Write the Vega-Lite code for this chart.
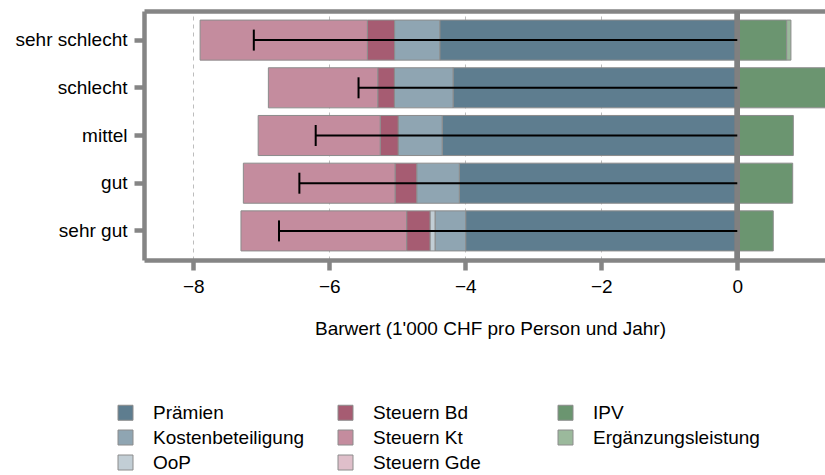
{
  "$schema": "https://vega.github.io/schema/vega-lite/v6.json",
  "width": 681,
  "height": 249,
  "autosize": {"type": "none"},
  "padding": {"left": 144, "top": 11, "right": 0, "bottom": 215},
  "background": "white",
  "config": {
    "view": {"stroke": null},
    "font": "Liberation Sans",
    "text": {"font": "Liberation Sans"}
  },
  "datasets": {
    "bars": [
      {"Zustand": "sehr schlecht", "Komponente": "Prämien", "Wert": -4.375, "Rang": 1},
      {"Zustand": "sehr schlecht", "Komponente": "Kostenbeteiligung", "Wert": -0.665, "Rang": 2},
      {"Zustand": "sehr schlecht", "Komponente": "Steuern Bd", "Wert": -0.40, "Rang": 4},
      {"Zustand": "sehr schlecht", "Komponente": "Steuern Kt", "Wert": -2.46, "Rang": 5},
      {"Zustand": "sehr schlecht", "Komponente": "IPV", "Wert": 0.726, "Rang": 7},
      {"Zustand": "sehr schlecht", "Komponente": "Ergänzungsleistung", "Wert": 0.063, "Rang": 8},
      {"Zustand": "schlecht", "Komponente": "Prämien", "Wert": -4.18, "Rang": 1},
      {"Zustand": "schlecht", "Komponente": "Kostenbeteiligung", "Wert": -0.863, "Rang": 2},
      {"Zustand": "schlecht", "Komponente": "Steuern Bd", "Wert": -0.244, "Rang": 4},
      {"Zustand": "schlecht", "Komponente": "Steuern Kt", "Wert": -1.609, "Rang": 5},
      {"Zustand": "schlecht", "Komponente": "IPV", "Wert": 1.30, "Rang": 7},
      {"Zustand": "mittel", "Komponente": "Prämien", "Wert": -4.34, "Rang": 1},
      {"Zustand": "mittel", "Komponente": "Kostenbeteiligung", "Wert": -0.647, "Rang": 2},
      {"Zustand": "mittel", "Komponente": "Steuern Bd", "Wert": -0.265, "Rang": 4},
      {"Zustand": "mittel", "Komponente": "Steuern Kt", "Wert": -1.794, "Rang": 5},
      {"Zustand": "mittel", "Komponente": "IPV", "Wert": 0.824, "Rang": 7},
      {"Zustand": "gut", "Komponente": "Prämien", "Wert": -4.088, "Rang": 1},
      {"Zustand": "gut", "Komponente": "Kostenbeteiligung", "Wert": -0.626, "Rang": 2},
      {"Zustand": "gut", "Komponente": "Steuern Bd", "Wert": -0.319, "Rang": 4},
      {"Zustand": "gut", "Komponente": "Steuern Kt", "Wert": -2.231, "Rang": 5},
      {"Zustand": "gut", "Komponente": "IPV", "Wert": 0.815, "Rang": 7},
      {"Zustand": "sehr gut", "Komponente": "Prämien", "Wert": -3.994, "Rang": 1},
      {"Zustand": "sehr gut", "Komponente": "Kostenbeteiligung", "Wert": -0.451, "Rang": 2},
      {"Zustand": "sehr gut", "Komponente": "OoP", "Wert": -0.074, "Rang": 3},
      {"Zustand": "sehr gut", "Komponente": "Steuern Bd", "Wert": -0.343, "Rang": 4},
      {"Zustand": "sehr gut", "Komponente": "Steuern Kt", "Wert": -2.437, "Rang": 5},
      {"Zustand": "sehr gut", "Komponente": "IPV", "Wert": 0.529, "Rang": 7}
    ],
    "netto": [
      {"Zustand": "sehr schlecht", "Netto": -7.11},
      {"Zustand": "schlecht", "Netto": -5.57},
      {"Zustand": "mittel", "Netto": -6.20},
      {"Zustand": "gut", "Netto": -6.44},
      {"Zustand": "sehr gut", "Netto": -6.74}
    ]
  },
  "layer": [
    {
      "data": {"name": "bars"},
      "mark": {"type": "bar", "stroke": "#8c8c8c", "strokeWidth": 1, "clip": true, "opacity": 1},
      "encoding": {
        "y": {
          "field": "Zustand", "type": "nominal",
          "sort": ["sehr schlecht", "schlecht", "mittel", "gut", "sehr gut"],
          "scale": {"paddingInner": 0.16, "paddingOuter": 0.19},
          "axis": {
            "title": null, "labelFontSize": 19, "labelColor": "#000000", "labelFont": "Liberation Sans",
            "labelPadding": 7, "tickSize": 10, "tickWidth": 4.5, "tickColor": "#858585",
            "domainColor": "#858585", "domainWidth": 4.5, "grid": false
          }
        },
        "x": {
          "field": "Wert", "type": "quantitative", "stack": "zero",
          "scale": {"domain": [-8.725, 1.29], "nice": false, "zero": false},
          "axis": {
            "values": [-8, -6, -4, -2, 0],
            "title": "Barwert (1'000 CHF pro Person und Jahr)",
            "titleFontSize": 19, "titleFontWeight": "normal", "titleColor": "#000000", "titleFont": "Liberation Sans",
            "titleX": 346, "titleY": 68, "titleBaseline": "middle", "titleAlign": "center", "titleAnchor": null,
            "labelFontSize": 19, "labelColor": "#000000", "labelFont": "Liberation Sans", "labelPadding": 7,
            "tickSize": 10, "tickWidth": 4.5, "tickColor": "#858585",
            "domainColor": "#858585", "domainWidth": 4.5,
            "grid": true, "gridDash": [4, 4], "gridColor": "#bdbdbd", "gridWidth": 1
          }
        },
        "color": {
          "field": "Komponente", "type": "nominal",
          "scale": {
            "domain": ["Prämien", "Kostenbeteiligung", "OoP", "Steuern Bd", "Steuern Kt", "Steuern Gde", "IPV", "Ergänzungsleistung"],
            "range": ["#5e7d8f", "#8fa5b2", "#c2ced5", "#a65c72", "#c48c9e", "#dfbfca", "#6b9570", "#9bb99c"]
          },
          "legend": {
            "title": null, "orient": "none", "legendX": -28, "legendY": 392,
            "direction": "vertical", "columns": 3, "gridAlign": "all",
            "columnPadding": 16, "rowPadding": 5,
            "symbolType": "square", "symbolSize": 225, "symbolStrokeColor": "#8c8c8c", "symbolStrokeWidth": 1,
            "symbolOpacity": 1, "labelOffset": 18, "labelFontSize": 19, "labelColor": "#000000",
            "labelFont": "Liberation Sans", "labelLimit": 300
          }
        },
        "order": {"field": "Rang", "type": "quantitative"}
      }
    },
    {
      "data": {"name": "netto"},
      "mark": {"type": "rule", "color": "#808080", "strokeWidth": 5},
      "encoding": {
        "x": {"datum": 0, "type": "quantitative", "axis": null}
      }
    },
    {
      "data": {"name": "netto"},
      "mark": {"type": "rule", "color": "#000000", "strokeWidth": 2},
      "encoding": {
        "y": {"field": "Zustand", "type": "nominal", "sort": ["sehr schlecht", "schlecht", "mittel", "gut", "sehr gut"]},
        "x": {
          "field": "Netto", "type": "quantitative",
          "axis": {"orient": "top", "domain": true, "domainColor": "#858585", "domainWidth": 4.5,
                   "ticks": false, "labels": false, "grid": false, "title": null}
        },
        "x2": {"datum": 0}
      }
    },
    {
      "data": {"name": "netto"},
      "mark": {"type": "tick", "color": "#000000", "thickness": 2, "size": 21, "opacity": 1},
      "encoding": {
        "y": {"field": "Zustand", "type": "nominal", "sort": ["sehr schlecht", "schlecht", "mittel", "gut", "sehr gut"]},
        "x": {"field": "Netto", "type": "quantitative", "axis": null}
      }
    }
  ],
  "resolve": {"axis": {"x": "independent"}}
}
